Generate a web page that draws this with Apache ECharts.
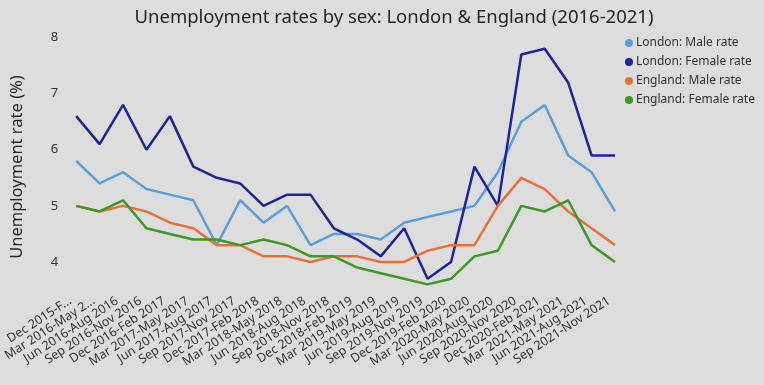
<!DOCTYPE html>
<html><head><meta charset="utf-8">
<script src="https://cdn.jsdelivr.net/npm/echarts@6/dist/echarts.min.js"></script>
<style>html,body{margin:0;padding:0;background:#dedddd;}#c{width:764px;height:385px;}</style>
</head><body><div id="c"></div>
<script>
const categories = ["Dec 2015-Feb 2016","Mar 2016-May 2016","Jun 2016-Aug 2016","Sep 2016-Nov 2016","Dec 2016-Feb 2017","Mar 2017-May 2017","Jun 2017-Aug 2017","Sep 2017-Nov 2017","Dec 2017-Feb 2018","Mar 2018-May 2018","Jun 2018-Aug 2018","Sep 2018-Nov 2018","Dec 2018-Feb 2019","Mar 2019-May 2019","Jun 2019-Aug 2019","Sep 2019-Nov 2019","Dec 2019-Feb 2020","Mar 2020-May 2020","Jun 2020-Aug 2020","Sep 2020-Nov 2020","Dec 2020-Feb 2021","Mar 2021-May 2021","Jun 2021-Aug 2021","Sep 2021-Nov 2021"];
const tickLabels = ["Dec 2015-F...","Mar 2016-May 2...","Jun 2016-Aug 2016","Sep 2016-Nov 2016","Dec 2016-Feb 2017","Mar 2017-May 2017","Jun 2017-Aug 2017","Sep 2017-Nov 2017","Dec 2017-Feb 2018","Mar 2018-May 2018","Jun 2018-Aug 2018","Sep 2018-Nov 2018","Dec 2018-Feb 2019","Mar 2019-May 2019","Jun 2019-Aug 2019","Sep 2019-Nov 2019","Dec 2019-Feb 2020","Mar 2020-May 2020","Jun 2020-Aug 2020","Sep 2020-Nov 2020","Dec 2020-Feb 2021","Mar 2021-May 2021","Jun 2021-Aug 2021","Sep 2021-Nov 2021"];
const londonMale   = [5.8,5.4,5.6,5.3,5.2,5.1,4.3,5.1,4.7,5.0,4.3,4.5,4.5,4.4,4.7,4.8,4.9,5.0,5.6,6.5,6.8,5.9,5.6,4.9];
const londonFemale = [6.6,6.1,6.8,6.0,6.6,5.7,5.5,5.4,5.0,5.2,5.2,4.6,4.4,4.1,4.6,3.7,4.0,5.7,5.0,7.7,7.8,7.2,5.9,5.9];
const englandMale  = [5.0,4.9,5.0,4.9,4.7,4.6,4.3,4.3,4.1,4.1,4.0,4.1,4.1,4.0,4.0,4.2,4.3,4.3,5.0,5.5,5.3,4.9,4.6,4.3];
const englandFemale= [5.0,4.9,5.1,4.6,4.5,4.4,4.4,4.3,4.4,4.3,4.1,4.1,3.9,3.8,3.7,3.6,3.7,4.1,4.2,5.0,4.9,5.1,4.3,4.0];
const seriesNames = ["London: Male rate","London: Female rate","England: Male rate","England: Female rate"];
const colors = ["#5a9fd8","#1a2599","#e8703a","#3a9a22"];
const yTickValues = [4,5,6,7,8];

const chart = echarts.init(document.getElementById('c'), null, {renderer:'canvas'});
const font = '"Segoe UI","Noto Sans","Open Sans",sans-serif';
const dataSets = [londonMale, londonFemale, englandMale, englandFemale];
chart.setOption({
  backgroundColor: '#dedddd',
  animation: false,
  title: {
    text: 'Unemployment rates by sex: London & England (2016-2021)',
    left: 389, top: 3, textAlign: 'center',
    textStyle: {fontFamily: font, fontSize: 18.5, fontWeight: 'normal', color: '#252423'}
  },
  legend: {
    orient: 'vertical', left: 620, top: 32, itemGap: 7,
    icon: 'circle', itemWidth: 8, itemHeight: 8,
    textStyle: {fontFamily: font, fontSize: 12, color: '#333', padding:[0,0,0,-2]},
    data: seriesNames
  },
  grid: {left: 76, right: 149, top: 32, bottom: 95},
  xAxis: {
    type: 'category', data: categories, boundaryGap: false,
    axisLine: {show: false}, axisTick: {show: false},
    axisLabel: {
      interval: 0, rotate: 33, margin: 6,
      fontFamily: font, fontSize: 12.5, color: '#333',
      padding: [0, 7, 0, 0],
      formatter: (v, i) => tickLabels[i]
    }
  },
  yAxis: {
    type: 'value', min: 3.5, max: 8.1, interval: 0.5,
    name: 'Unemployment rate (%)', nameLocation: 'middle', nameGap: 50,
    nameTextStyle: {fontFamily: font, fontSize: 16.5, color: '#252423', padding: [0, 12, 0, 0]},
    axisLine: {show: false}, axisTick: {show: false},
    axisLabel: {
      fontFamily: font, fontSize: 13, color: '#333', margin: 18,
      formatter: v => yTickValues.includes(v) ? String(v) : ''
    },
    splitLine: {show: false}
  },
  series: seriesNames.map((n, k) => ({
    name: n, type: 'line', data: dataSets[k], symbol: 'none',
    lineStyle: {width: 2.5, color: colors[k]}, itemStyle: {color: colors[k]}
  }))
});
</script></body></html>
